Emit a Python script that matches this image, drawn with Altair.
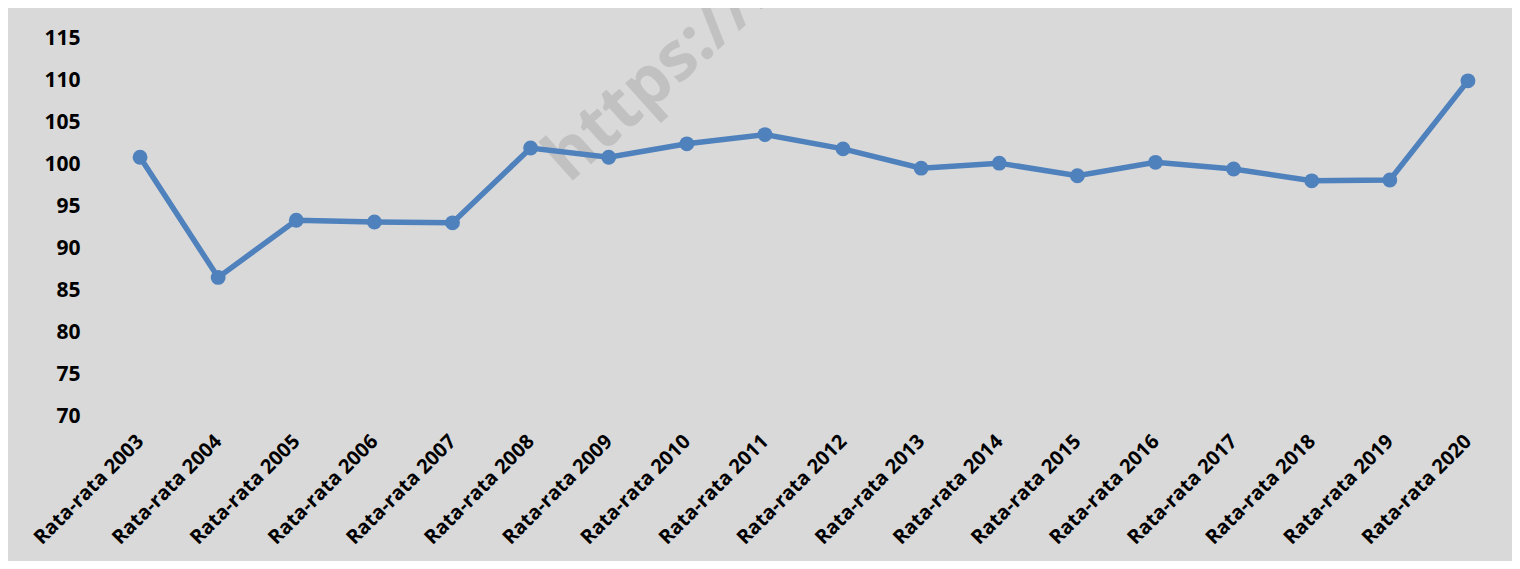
import altair as alt
import pandas as pd

categories = [f"Rata-rata {y}" for y in range(2003, 2021)]
values = [100.8, 86.5, 93.3, 93.1, 93.0, 101.9, 100.8, 102.4, 103.5,
          101.8, 99.5, 100.1, 98.6, 100.2, 99.4, 98.0, 98.1, 109.9]
y_ticks = [70, 75, 80, 85, 90, 95, 100, 105, 110, 115]

df = pd.DataFrame({"cat": categories, "val": values})

FONT = "Open Sans"
BLUE = "#4f81bd"

x_enc = alt.X("cat:N", sort=categories, title=None,
              scale=alt.Scale(paddingOuter=0.5),
              axis=alt.Axis(labelAngle=315, labelAlign="right", labelBaseline="middle",
                            labelPadding=22, ticks=False, domain=False,
                            labelFont=FONT, labelFontSize=20, labelFontWeight="bold",
                            labelColor="#000000"))
y_enc = alt.Y("val:Q", title=None,
              scale=alt.Scale(domain=[70, 115], nice=False, zero=False),
              axis=alt.Axis(values=y_ticks, grid=False, ticks=False, domain=False,
                            labelPadding=21, labelFont=FONT, labelFontSize=21,
                            labelFontWeight="bold", labelColor="#000000"))

line = alt.Chart(df).mark_line(color=BLUE, strokeWidth=5.5).encode(x=x_enc, y=y_enc)
pts = alt.Chart(df).mark_point(color=BLUE, filled=True, opacity=1, size=220).encode(x=x_enc, y=y_enc)

wm = alt.Chart(pd.DataFrame({"t": ["https://s"]})).mark_text(
    angle=318, align="left", baseline="alphabetic", font=FONT, fontSize=68,
    fontWeight="bold", color="#bdbdbd", opacity=0.85
).encode(text="t:N", x=alt.value(468), y=alt.value(146))

chart = alt.layer(wm, line, pts).properties(
    width=1406, height=378,
    background="#d9d9d9",
    padding={"left": 93, "top": 30, "right": 5, "bottom": 145},
    autosize=alt.AutoSizeParams(type="none"),
).configure_view(stroke=None, fill="#d9d9d9")

chart.save("out.html", embed_options={"renderer": "svg", "actions": False})
